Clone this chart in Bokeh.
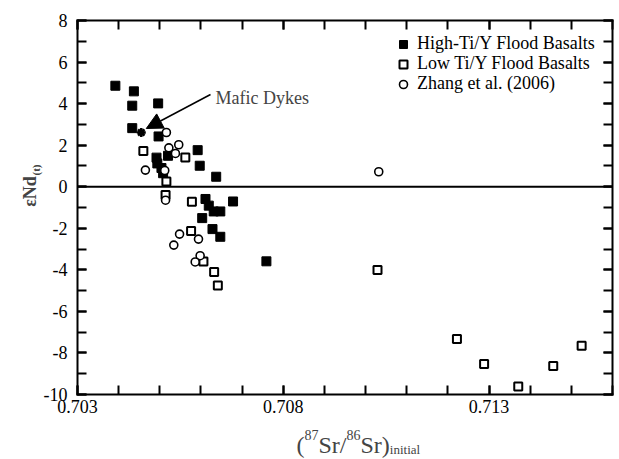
import math
from bokeh.plotting import figure
from bokeh.models import (Range1d, FixedTicker, LinearAxis, Legend, LegendItem, Label,
                          Arrow, NormalHead, PrintfTickFormatter)
from bokeh.embed import file_html
from bokeh.resources import INLINE

# ---------------- data ----------------
high_x = [0.70392, 0.70437, 0.70433, 0.70496, 0.70433, 0.70497, 0.70492, 0.70494, 0.70504,
          0.70508, 0.70520, 0.70592, 0.70597, 0.70637, 0.70611, 0.70619, 0.70631, 0.70647,
          0.70678, 0.70603, 0.70628, 0.70647, 0.70759]
high_y = [4.86, 4.59, 3.90, 4.01, 2.82, 2.42, 1.40, 1.12, 0.90,
          0.65, 1.49, 1.76, 1.01, 0.48, -0.59, -0.91, -1.19, -1.19,
          -0.71, -1.51, -2.04, -2.41, -3.59]

low_x = [0.70460, 0.70562, 0.70516, 0.70514, 0.70578, 0.70576, 0.70606, 0.70632, 0.70641,
         0.71029, 0.71222, 0.71288, 0.71371, 0.71456, 0.71525]
low_y = [1.72, 1.41, 0.25, -0.40, -0.72, -2.13, -3.60, -4.10, -4.76,
         -4.01, -7.33, -8.53, -9.62, -8.63, -7.65]

zhang_x = [0.70516, 0.70465, 0.70522, 0.70546, 0.70538, 0.70512, 0.70514, 0.70548, 0.70534,
           0.70594, 0.70598, 0.70586, 0.71032]
zhang_y = [2.61, 0.80, 1.87, 2.02, 1.60, 0.78, -0.65, -2.28, -2.81,
           -2.52, -3.32, -3.62, 0.72]

dyke_x = [0.70455]
dyke_y = [2.61]

series_labels = ["High-Ti/Y Flood Basalts", "Low Ti/Y Flood Basalts", "Zhang et al. (2006)"]

x_major = [0.703, 0.708, 0.713]
x_minor = [round(0.703 + 0.001 * i, 3) for i in range(14)]
y_major = list(range(-10, 9, 2))
y_minor = list(range(-10, 9))

XMIN, XMAX, YMIN, YMAX = 0.703, 0.716, -10, 8

# ---------------- layout (canvas pixels) ----------------
W, H = 619, 459
FL, FR, FT, FB = 77, 612, 20, 394          # visible plot box
KX = (XMAX - XMIN) / (FR - FL)
KY = (YMAX - YMIN) / (FB - FT)


def dx(px):
    return XMIN + (px - FL) * KX


def dy(py):
    return YMAX - (py - FT) * KY


FONT = "Liberation Serif"

p = figure(width=W, height=H,
           x_range=Range1d(XMIN - FL * KX, XMAX + (W - FR) * KX),
           y_range=Range1d(YMIN - (H - FB) * KY, YMAX + FT * KY),
           output_backend="svg", toolbar_location=None,
           x_axis_location=None, y_axis_location=None, min_border=0)
p.title.visible = False
p.grid.visible = False
p.outline_line_color = None
p.background_fill_color = "white"
p.border_fill_color = "white"


def make_axis(loc, bounds, ticks, minor, labels=True):
    ax = LinearAxis(fixed_location=loc, bounds=bounds,
                    ticker=FixedTicker(ticks=ticks, minor_ticks=minor))
    ax.axis_line_color = "black"
    ax.axis_line_width = 2
    ax.axis_line_cap = "square"
    ax.major_tick_in = 9
    ax.major_tick_out = 0
    ax.minor_tick_in = 9
    ax.minor_tick_out = 0
    ax.major_tick_line_width = 2
    ax.minor_tick_line_width = 2
    ax.major_tick_line_color = "black"
    ax.minor_tick_line_color = "black"
    ax.major_label_text_font = FONT
    ax.major_label_text_font_size = "18px"
    ax.major_label_text_color = "black" if labels else None
    return ax


bottom_ax = make_axis(YMIN, (XMIN, XMAX), x_major, x_minor)
bottom_ax.formatter = PrintfTickFormatter(format="%.3f")
bottom_ax.major_label_standoff = 5
left_ax = make_axis(XMIN, (YMIN, YMAX), y_major, y_minor)
left_ax.major_label_overrides = {v: str(v) for v in y_major}
left_ax.major_label_standoff = 10
top_ax = make_axis(YMAX, (XMIN, XMAX), x_major, x_minor, labels=False)
right_ax = make_axis(XMAX, (YMIN, YMAX), y_major, y_minor, labels=False)
p.add_layout(bottom_ax, "below")
p.add_layout(left_ax, "left")
p.add_layout(top_ax, "above")
p.add_layout(right_ax, "right")

# zero reference line across the plot box
p.line(x=[XMIN, XMAX], y=[0, 0], line_color="black", line_width=2)

# ---------------- points ----------------
r_high = p.scatter(high_x, high_y, marker="square", size=9, fill_color="black",
                   line_color="black", line_width=1)
r_low = p.scatter(low_x, low_y, marker="square", size=8, fill_color="white",
                  line_color="black", line_width=2)
r_zh = p.scatter(zhang_x, zhang_y, marker="circle", size=8, fill_color="white",
                 line_color="black", line_width=1.6)
p.scatter(dyke_x, dyke_y, marker="asterisk", size=9, line_color="black", line_width=2.5)
p.scatter(dyke_x, dyke_y, marker="circle", size=4, fill_color="black", line_color="black")

# ---------------- legend (one row each, placed in canvas pixels) ----------------
row_centers = [44, 64, 84]
for lab, r, rc in zip(series_labels, [r_high, r_low, r_zh], row_centers):
    lg = Legend(items=[LegendItem(label=lab, renderers=[r])],
                location=(392, H - rc - 10), margin=0, padding=0, spacing=0,
                glyph_width=22, glyph_height=20, label_height=20, label_standoff=3,
                label_text_font=FONT, label_text_font_size="18px", label_text_color="black",
                border_line_alpha=0, background_fill_alpha=0)
    p.add_layout(lg)

# ---------------- annotation ----------------
p.add_layout(Label(x=dx(215), y=dy(97), text="Mafic Dykes", text_font=FONT,
                   text_font_size="18px", text_align="left", text_baseline="alphabetic"))
p.add_layout(Arrow(end=NormalHead(size=16, fill_color="black", line_color="black"),
                   x_start=dx(210), y_start=dy(94),
                   x_end=dyke_x[0] + 5 * KX, y_end=dyke_y[0] + 4 * KY,
                   line_width=1.5, line_color="black"))

# ---------------- axis titles ----------------
p.add_layout(Label(x=dx(29), y=dy(191), text="εNd", text_font=FONT, text_font_size="18px",
                   text_font_style="bold", angle=math.pi / 2, text_align="center",
                   text_baseline="middle"))
p.add_layout(Label(x=dx(35), y=dy(175), text="(t)", text_font=FONT, text_font_size="11px",
                   text_font_style="bold", angle=math.pi / 2, text_align="left",
                   text_baseline="middle"))

pieces = [("(", 24, 444), ("87", 14, 434), ("Sr/", 24, 444), ("86", 14, 434),
          ("Sr)", 24, 444), ("initial", 13, 449)]
em = {"(": 0.333, "87": 1.0, "Sr/": 1.167, "86": 1.0, "Sr)": 1.222, "initial": 2.334}
xpos = 296.0
for txt, fs, base in pieces:
    p.add_layout(Label(x=dx(xpos), y=dy(base), text=txt, text_font=FONT,
                       text_font_size=f"{fs}px", text_align="left",
                       text_baseline="alphabetic"))
    xpos += em[txt] * fs

open("out.html", "w").write(file_html(p, INLINE))
